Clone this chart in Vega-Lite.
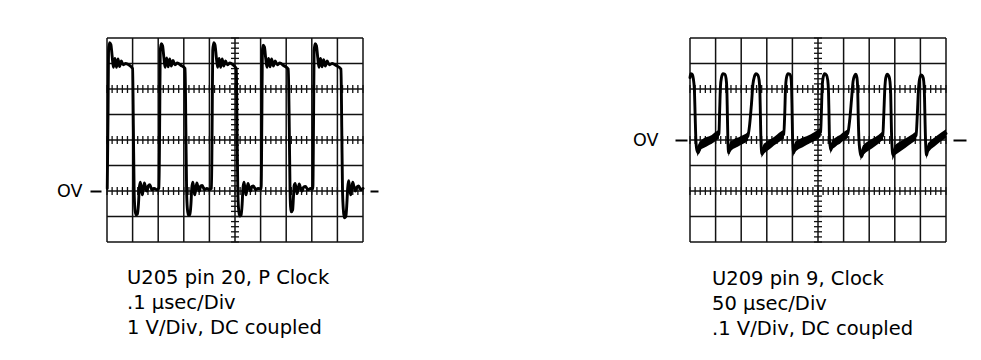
{
  "$schema": "https://vega.github.io/schema/vega-lite/v6.json",
  "autosize": "none",
  "padding": {"left": 107, "top": 38, "right": 874, "bottom": 322},
  "background": "white",
  "config": {"view": {"stroke": null}, "font": "DejaVu Sans"},
  "spacing": 327,
  "bounds": "flush",
  "datasets": {
    "gx": [{"t":0},{"t":1},{"t":2},{"t":3},{"t":4},{"t":5},{"t":6},{"t":7},{"t":8},{"t":9},{"t":10}],
    "gyL": [{"v":-2},{"v":-1},{"v":0},{"v":1},{"v":2},{"v":3},{"v":4},{"v":5},{"v":6}],
    "gyR": [{"v":-0.4},{"v":-0.3},{"v":-0.2},{"v":-0.1},{"v":0},{"v":0.1},{"v":0.2},{"v":0.3},{"v":0.4}],
    "mt": [{"t":0},{"t":0.2},{"t":0.4},{"t":0.6},{"t":0.8},{"t":1},{"t":1.2},{"t":1.4},{"t":1.6},{"t":1.8},{"t":2},{"t":2.2},{"t":2.4},{"t":2.6},{"t":2.8},{"t":3},{"t":3.2},{"t":3.4},{"t":3.6},{"t":3.8},{"t":4},{"t":4.2},{"t":4.4},{"t":4.6},{"t":4.8},{"t":5},{"t":5.2},{"t":5.4},{"t":5.6},{"t":5.8},{"t":6},{"t":6.2},{"t":6.4},{"t":6.6},{"t":6.8},{"t":7},{"t":7.2},{"t":7.4},{"t":7.6},{"t":7.8},{"t":8},{"t":8.2},{"t":8.4},{"t":8.6},{"t":8.8},{"t":9},{"t":9.2},{"t":9.4},{"t":9.6},{"t":9.8},{"t":10}],
    "mvL": [{"v":-2},{"v":-1.8},{"v":-1.6},{"v":-1.4},{"v":-1.2},{"v":-1},{"v":-0.8},{"v":-0.6},{"v":-0.4},{"v":-0.2},{"v":0},{"v":0.2},{"v":0.4},{"v":0.6},{"v":0.8},{"v":1},{"v":1.2},{"v":1.4},{"v":1.6},{"v":1.8},{"v":2},{"v":2.2},{"v":2.4},{"v":2.6},{"v":2.8},{"v":3},{"v":3.2},{"v":3.4},{"v":3.6},{"v":3.8},{"v":4},{"v":4.2},{"v":4.4},{"v":4.6},{"v":4.8},{"v":5},{"v":5.2},{"v":5.4},{"v":5.6},{"v":5.8},{"v":6}],
    "mvR": [{"v":-0.4},{"v":-0.38},{"v":-0.36},{"v":-0.34},{"v":-0.32},{"v":-0.3},{"v":-0.28},{"v":-0.26},{"v":-0.24},{"v":-0.22},{"v":-0.2},{"v":-0.18},{"v":-0.16},{"v":-0.14},{"v":-0.12},{"v":-0.1},{"v":-0.08},{"v":-0.06},{"v":-0.04},{"v":-0.02},{"v":0},{"v":0.02},{"v":0.04},{"v":0.06},{"v":0.08},{"v":0.1},{"v":0.12},{"v":0.14},{"v":0.16},{"v":0.18},{"v":0.2},{"v":0.22},{"v":0.24},{"v":0.26},{"v":0.28},{"v":0.3},{"v":0.32},{"v":0.34},{"v":0.36},{"v":0.38},{"v":0.4}],
    "traceL": [
      {"t":0.01,"v":0.1},{"t":0.04,"v":3.0},{"t":0.06,"v":5.5},{"t":0.1,"v":5.82},{"t":0.15,"v":5.75},{"t":0.2,"v":5.3},{"t":0.25,"v":4.85},{"t":0.31,"v":5.2},{"t":0.37,"v":4.85},{"t":0.43,"v":5.18},{"t":0.49,"v":4.88},{"t":0.56,"v":5.1},{"t":0.63,"v":4.95},{"t":0.73,"v":5.0},{"t":0.85,"v":4.95},{"t":1.0,"v":4.8},{"t":1.03,"v":2.5},{"t":1.06,"v":0.0},{"t":1.09,"v":-0.7},{"t":1.13,"v":-0.93},{"t":1.19,"v":-0.9},{"t":1.23,"v":-0.5},{"t":1.26,"v":0.1},{"t":1.3,"v":0.35},{"t":1.34,"v":0.1},{"t":1.38,"v":-0.15},{"t":1.42,"v":0.1},{"t":1.46,"v":0.32},{"t":1.51,"v":0.1},{"t":1.56,"v":0.0},{"t":1.61,"v":0.2},{"t":1.67,"v":0.25},{"t":1.75,"v":0.05},{"t":1.85,"v":0.1},{"t":1.95,"v":0.05},{"t":2.03,"v":0.1},
      {"t":2.06,"v":3.0},{"t":2.08,"v":5.5},{"t":2.12,"v":5.78},{"t":2.17,"v":5.7},{"t":2.22,"v":5.25},{"t":2.27,"v":4.85},{"t":2.33,"v":5.22},{"t":2.39,"v":4.87},{"t":2.45,"v":5.18},{"t":2.51,"v":4.9},{"t":2.58,"v":5.12},{"t":2.65,"v":4.95},{"t":2.75,"v":5.02},{"t":2.88,"v":4.93},{"t":3.05,"v":4.8},{"t":3.08,"v":2.5},{"t":3.11,"v":0.0},{"t":3.14,"v":-0.7},{"t":3.18,"v":-0.95},{"t":3.24,"v":-0.92},{"t":3.28,"v":-0.5},{"t":3.31,"v":0.1},{"t":3.35,"v":0.35},{"t":3.39,"v":0.1},{"t":3.43,"v":-0.15},{"t":3.47,"v":0.1},{"t":3.51,"v":0.32},{"t":3.56,"v":0.1},{"t":3.61,"v":0.0},{"t":3.66,"v":0.2},{"t":3.72,"v":0.22},{"t":3.8,"v":0.05},{"t":3.9,"v":0.1},{"t":4.0,"v":0.05},{"t":4.08,"v":0.1},
      {"t":4.11,"v":3.0},{"t":4.13,"v":5.5},{"t":4.17,"v":5.82},{"t":4.22,"v":5.72},{"t":4.27,"v":5.25},{"t":4.32,"v":4.85},{"t":4.38,"v":5.2},{"t":4.44,"v":4.85},{"t":4.5,"v":5.18},{"t":4.56,"v":4.9},{"t":4.63,"v":5.1},{"t":4.7,"v":4.95},{"t":4.8,"v":5.02},{"t":4.92,"v":4.95},{"t":5.05,"v":4.8},{"t":5.08,"v":2.5},{"t":5.11,"v":0.0},{"t":5.14,"v":-0.7},{"t":5.18,"v":-0.98},{"t":5.24,"v":-0.95},{"t":5.28,"v":-0.5},{"t":5.31,"v":0.1},{"t":5.35,"v":0.35},{"t":5.39,"v":0.1},{"t":5.43,"v":-0.15},{"t":5.47,"v":0.1},{"t":5.51,"v":0.3},{"t":5.56,"v":0.1},{"t":5.61,"v":0.0},{"t":5.66,"v":0.18},{"t":5.72,"v":0.2},{"t":5.8,"v":0.05},{"t":5.9,"v":0.1},{"t":6.02,"v":0.08},
      {"t":6.05,"v":3.0},{"t":6.07,"v":5.5},{"t":6.1,"v":5.72},{"t":6.15,"v":5.65},{"t":6.2,"v":5.2},{"t":6.25,"v":4.85},{"t":6.31,"v":5.2},{"t":6.37,"v":4.87},{"t":6.43,"v":5.18},{"t":6.5,"v":4.9},{"t":6.57,"v":5.1},{"t":6.65,"v":4.95},{"t":6.75,"v":5.02},{"t":6.9,"v":4.92},{"t":7.08,"v":4.78},{"t":7.12,"v":2.5},{"t":7.15,"v":0.0},{"t":7.17,"v":-0.6},{"t":7.2,"v":-0.82},{"t":7.25,"v":-0.75},{"t":7.28,"v":-0.3},{"t":7.31,"v":0.2},{"t":7.35,"v":0.3},{"t":7.39,"v":0.05},{"t":7.43,"v":-0.1},{"t":7.47,"v":0.1},{"t":7.51,"v":0.28},{"t":7.56,"v":0.1},{"t":7.62,"v":0.0},{"t":7.68,"v":0.15},{"t":7.75,"v":0.18},{"t":7.85,"v":0.05},{"t":7.95,"v":0.1},{"t":8.04,"v":0.08},
      {"t":8.07,"v":3.0},{"t":8.09,"v":5.5},{"t":8.13,"v":5.78},{"t":8.18,"v":5.7},{"t":8.23,"v":5.25},{"t":8.28,"v":4.85},{"t":8.34,"v":5.2},{"t":8.4,"v":4.87},{"t":8.46,"v":5.15},{"t":8.53,"v":4.9},{"t":8.6,"v":5.1},{"t":8.68,"v":4.95},{"t":8.8,"v":5.0},{"t":8.95,"v":4.92},{"t":9.14,"v":4.78},{"t":9.17,"v":2.5},{"t":9.2,"v":0.0},{"t":9.23,"v":-0.7},{"t":9.27,"v":-1.05},{"t":9.33,"v":-1.0},{"t":9.37,"v":-0.5},{"t":9.4,"v":0.1},{"t":9.44,"v":0.4},{"t":9.48,"v":0.1},{"t":9.52,"v":-0.15},{"t":9.56,"v":0.1},{"t":9.6,"v":0.35},{"t":9.65,"v":0.15},{"t":9.7,"v":0.0},{"t":9.76,"v":0.15},{"t":9.83,"v":0.2},{"t":9.91,"v":0.05},{"t":10.0,"v":0.1}
    ],
    "traceR": [
      {"t":0,"v":0.245},{"t":0.03,"v":0.26},{"t":0.08,"v":0.258},{"t":0.13,"v":0.24},{"t":0.17,"v":0.2},{"t":0.2,"v":0.1},{"t":0.23,"v":0.0},{"t":0.27,"v":-0.04},{"t":0.32,"v":-0.05},{"t":0.4,"v":-0.025},{"t":0.55,"v":-0.011},{"t":0.75,"v":-0.003},{"t":0.95,"v":0.01},{"t":1.1,"v":0.02},
      {"t":1.13,"v":0.025},{"t":1.16,"v":0.12},{"t":1.19,"v":0.21},{"t":1.23,"v":0.245},{"t":1.29,"v":0.26},{"t":1.36,"v":0.258},{"t":1.41,"v":0.24},{"t":1.44,"v":0.2},{"t":1.46,"v":0.1},{"t":1.48,"v":0.0},{"t":1.51,"v":-0.05},{"t":1.58,"v":-0.025},{"t":1.78,"v":-0.011},{"t":1.98,"v":-0.003},{"t":2.18,"v":0.008},{"t":2.26,"v":0.015},
      {"t":2.33,"v":0.06},{"t":2.4,"v":0.14},{"t":2.46,"v":0.22},{"t":2.52,"v":0.25},{"t":2.58,"v":0.26},{"t":2.65,"v":0.255},{"t":2.7,"v":0.235},{"t":2.73,"v":0.19},{"t":2.75,"v":0.1},{"t":2.77,"v":0.0},{"t":2.81,"v":-0.055},{"t":2.88,"v":-0.035},{"t":3.08,"v":-0.019},{"t":3.28,"v":-0.005},{"t":3.48,"v":0.01},{"t":3.66,"v":0.022},
      {"t":3.7,"v":0.1},{"t":3.73,"v":0.2},{"t":3.77,"v":0.245},{"t":3.83,"v":0.26},{"t":3.9,"v":0.258},{"t":3.95,"v":0.24},{"t":3.97,"v":0.2},{"t":3.99,"v":0.1},{"t":4.01,"v":0.0},{"t":4.05,"v":-0.05},{"t":4.12,"v":-0.025},{"t":4.4,"v":-0.009},{"t":4.7,"v":0.005},{"t":5.0,"v":0.022},{"t":5.1,"v":0.03},
      {"t":5.13,"v":0.1},{"t":5.16,"v":0.2},{"t":5.2,"v":0.245},{"t":5.26,"v":0.26},{"t":5.33,"v":0.255},{"t":5.38,"v":0.235},{"t":5.41,"v":0.19},{"t":5.43,"v":0.1},{"t":5.45,"v":0.0},{"t":5.5,"v":-0.04},{"t":5.56,"v":-0.018},{"t":5.76,"v":-0.003},{"t":5.96,"v":0.012},{"t":6.16,"v":0.025},
      {"t":6.24,"v":0.08},{"t":6.31,"v":0.16},{"t":6.37,"v":0.23},{"t":6.42,"v":0.25},{"t":6.47,"v":0.258},{"t":6.52,"v":0.245},{"t":6.55,"v":0.2},{"t":6.57,"v":0.1},{"t":6.6,"v":0.0},{"t":6.66,"v":-0.055},{"t":6.71,"v":-0.065},{"t":6.78,"v":-0.04},{"t":7.0,"v":-0.021},{"t":7.24,"v":-0.006},{"t":7.46,"v":0.012},{"t":7.53,"v":0.018},
      {"t":7.57,"v":0.1},{"t":7.61,"v":0.2},{"t":7.65,"v":0.245},{"t":7.71,"v":0.258},{"t":7.77,"v":0.25},{"t":7.81,"v":0.23},{"t":7.84,"v":0.18},{"t":7.86,"v":0.08},{"t":7.88,"v":0.0},{"t":7.93,"v":-0.06},{"t":8.0,"v":-0.04},{"t":8.28,"v":-0.021},{"t":8.56,"v":-0.003},{"t":8.83,"v":0.018},
      {"t":8.88,"v":0.1},{"t":8.92,"v":0.19},{"t":8.97,"v":0.24},{"t":9.03,"v":0.255},{"t":9.09,"v":0.25},{"t":9.13,"v":0.23},{"t":9.16,"v":0.17},{"t":9.18,"v":0.08},{"t":9.2,"v":0.0},{"t":9.24,"v":-0.06},{"t":9.3,"v":-0.03},{"t":9.55,"v":-0.008},{"t":9.8,"v":0.012},{"t":10.0,"v":0.025}
    ],
    "bandR": [
      {"seg":"A","t":0.28,"lo":-0.065,"hi":-0.025},{"seg":"A","t":0.36,"lo":-0.05,"hi":-0.01},{"seg":"A","t":0.45,"lo":-0.035,"hi":0.0},{"seg":"A","t":0.55,"lo":-0.03,"hi":0.008},{"seg":"A","t":0.65,"lo":-0.025,"hi":0.012},{"seg":"A","t":0.75,"lo":-0.02,"hi":0.015},{"seg":"A","t":0.85,"lo":-0.015,"hi":0.02},{"seg":"A","t":0.95,"lo":-0.008,"hi":0.028},{"seg":"A","t":1.05,"lo":0.0,"hi":0.035},{"seg":"A","t":1.13,"lo":0.005,"hi":0.04},
      {"seg":"B","t":1.5,"lo":-0.065,"hi":-0.025},{"seg":"B","t":1.58,"lo":-0.045,"hi":-0.005},{"seg":"B","t":1.68,"lo":-0.035,"hi":0.0},{"seg":"B","t":1.78,"lo":-0.03,"hi":0.008},{"seg":"B","t":1.88,"lo":-0.025,"hi":0.01},{"seg":"B","t":1.98,"lo":-0.02,"hi":0.015},{"seg":"B","t":2.08,"lo":-0.015,"hi":0.02},{"seg":"B","t":2.18,"lo":-0.01,"hi":0.025},{"seg":"B","t":2.27,"lo":-0.002,"hi":0.032},
      {"seg":"C","t":2.79,"lo":-0.07,"hi":-0.035},{"seg":"C","t":2.88,"lo":-0.055,"hi":-0.015},{"seg":"C","t":2.98,"lo":-0.045,"hi":-0.008},{"seg":"C","t":3.08,"lo":-0.038,"hi":0.0},{"seg":"C","t":3.18,"lo":-0.03,"hi":0.005},{"seg":"C","t":3.28,"lo":-0.022,"hi":0.012},{"seg":"C","t":3.38,"lo":-0.015,"hi":0.02},{"seg":"C","t":3.48,"lo":-0.008,"hi":0.028},{"seg":"C","t":3.58,"lo":0.0,"hi":0.035},{"seg":"C","t":3.67,"lo":0.005,"hi":0.04},
      {"seg":"D","t":4.03,"lo":-0.065,"hi":-0.025},{"seg":"D","t":4.12,"lo":-0.045,"hi":-0.005},{"seg":"D","t":4.25,"lo":-0.035,"hi":0.002},{"seg":"D","t":4.4,"lo":-0.028,"hi":0.01},{"seg":"D","t":4.55,"lo":-0.02,"hi":0.015},{"seg":"D","t":4.7,"lo":-0.012,"hi":0.022},{"seg":"D","t":4.85,"lo":-0.005,"hi":0.03},{"seg":"D","t":5.0,"lo":0.005,"hi":0.04},{"seg":"D","t":5.1,"lo":0.012,"hi":0.048},
      {"seg":"E","t":5.48,"lo":-0.055,"hi":-0.02},{"seg":"E","t":5.56,"lo":-0.035,"hi":0.0},{"seg":"E","t":5.66,"lo":-0.028,"hi":0.008},{"seg":"E","t":5.76,"lo":-0.02,"hi":0.015},{"seg":"E","t":5.86,"lo":-0.015,"hi":0.02},{"seg":"E","t":5.96,"lo":-0.005,"hi":0.028},{"seg":"E","t":6.06,"lo":0.0,"hi":0.035},{"seg":"E","t":6.17,"lo":0.008,"hi":0.042},
      {"seg":"F","t":6.66,"lo":-0.08,"hi":-0.045},{"seg":"F","t":6.76,"lo":-0.06,"hi":-0.02},{"seg":"F","t":6.88,"lo":-0.048,"hi":-0.01},{"seg":"F","t":7.0,"lo":-0.04,"hi":-0.002},{"seg":"F","t":7.12,"lo":-0.032,"hi":0.005},{"seg":"F","t":7.24,"lo":-0.024,"hi":0.012},{"seg":"F","t":7.36,"lo":-0.015,"hi":0.02},{"seg":"F","t":7.46,"lo":-0.005,"hi":0.028},{"seg":"F","t":7.54,"lo":0.0,"hi":0.035},
      {"seg":"G","t":7.9,"lo":-0.08,"hi":-0.045},{"seg":"G","t":8.0,"lo":-0.06,"hi":-0.02},{"seg":"G","t":8.14,"lo":-0.05,"hi":-0.01},{"seg":"G","t":8.28,"lo":-0.04,"hi":-0.002},{"seg":"G","t":8.42,"lo":-0.03,"hi":0.006},{"seg":"G","t":8.56,"lo":-0.02,"hi":0.015},{"seg":"G","t":8.7,"lo":-0.01,"hi":0.024},{"seg":"G","t":8.84,"lo":0.0,"hi":0.035},
      {"seg":"H","t":9.22,"lo":-0.075,"hi":-0.035},{"seg":"H","t":9.3,"lo":-0.05,"hi":-0.012},{"seg":"H","t":9.42,"lo":-0.035,"hi":0.0},{"seg":"H","t":9.55,"lo":-0.025,"hi":0.01},{"seg":"H","t":9.68,"lo":-0.015,"hi":0.02},{"seg":"H","t":9.8,"lo":-0.005,"hi":0.028},{"seg":"H","t":9.9,"lo":0.002,"hi":0.035},{"seg":"H","t":10.0,"lo":0.008,"hi":0.042}
    ]
  },
  "hconcat": [
    {
      "width": 256,
      "height": 204,
      "title": {"text": ["U205 pin 20, P Clock", ".1 μsec/Div", "1 V/Div, DC coupled"], "orient": "bottom", "anchor": "start", "frame": "group", "offset": 26, "dx": 20, "font": "DejaVu Sans", "fontSize": 19.5, "fontWeight": "normal", "color": "black", "lineHeight": 25, "baseline": "top"},
      "resolve": {"axis": {"y": "independent"}},
      "layer": [
        {"data": {"name": "gx"}, "mark": {"type": "rule", "color": "#111", "strokeWidth": 1.5}, "encoding": {"x": {"field": "t", "type": "quantitative", "scale": {"domain": [0, 10], "nice": false, "zero": false}, "axis": null}}},
        {"data": {"name": "gyL"}, "mark": {"type": "rule", "color": "#111", "strokeWidth": 1.5}, "encoding": {"y": {"field": "v", "type": "quantitative", "scale": {"domain": [-2, 6], "nice": false, "zero": false}, "axis": {"orient": "right", "values": [0], "labels": false, "domain": false, "grid": false, "ticks": true, "tickSize": 8, "tickWidth": 2, "tickColor": "black", "offset": 7, "title": null}}}},
        {"data": {"name": "mt"}, "mark": {"type": "tick", "orient": "vertical", "size": 8, "thickness": 1.3, "color": "#111", "opacity": 1}, "encoding": {"x": {"field": "t", "type": "quantitative", "axis": null}, "y": {"datum": 0, "axis": null}}},
        {"data": {"name": "mt"}, "mark": {"type": "tick", "orient": "vertical", "size": 8, "thickness": 1.3, "color": "#111", "opacity": 1}, "encoding": {"x": {"field": "t", "type": "quantitative", "axis": null}, "y": {"datum": 2, "axis": null}}},
        {"data": {"name": "mt"}, "mark": {"type": "tick", "orient": "vertical", "size": 8, "thickness": 1.3, "color": "#111", "opacity": 1}, "encoding": {"x": {"field": "t", "type": "quantitative", "axis": null}, "y": {"datum": 4, "axis": null}}},
        {"data": {"name": "mvL"}, "mark": {"type": "tick", "orient": "horizontal", "size": 8, "thickness": 1.3, "color": "#111", "opacity": 1}, "encoding": {"y": {"field": "v", "type": "quantitative", "axis": null}, "x": {"datum": 5, "axis": null}}},
        {"data": {"name": "traceL"}, "mark": {"type": "line", "color": "black", "strokeWidth": 2.9, "strokeJoin": "round", "strokeCap": "round", "interpolate": "monotone"}, "encoding": {"x": {"field": "t", "type": "quantitative", "axis": null}, "y": {"field": "v", "type": "quantitative", "axis": {"orient": "left", "values": [0], "labelExpr": "'OV'", "domain": false, "grid": false, "ticks": true, "tickSize": 11, "tickWidth": 2, "tickColor": "black", "offset": 6, "labelPadding": 8, "labelFont": "DejaVu Sans", "labelFontSize": 17.5, "labelColor": "black", "title": null}}}}
      ]
    },
    {
      "width": 256,
      "height": 204,
      "title": {"text": ["U209 pin 9, Clock", "50 μsec/Div", ".1 V/Div, DC coupled"], "orient": "bottom", "anchor": "start", "frame": "group", "offset": 27, "dx": 22, "font": "DejaVu Sans", "fontSize": 19.5, "fontWeight": "normal", "color": "black", "lineHeight": 25, "baseline": "top"},
      "resolve": {"axis": {"y": "independent"}},
      "layer": [
        {"data": {"name": "gx"}, "mark": {"type": "rule", "color": "#111", "strokeWidth": 1.5}, "encoding": {"x": {"field": "t", "type": "quantitative", "scale": {"domain": [0, 10], "nice": false, "zero": false}, "axis": null}}},
        {"data": {"name": "gyR"}, "mark": {"type": "rule", "color": "#111", "strokeWidth": 1.5}, "encoding": {"y": {"field": "v", "type": "quantitative", "scale": {"domain": [-0.4, 0.4], "nice": false, "zero": false}, "axis": {"orient": "right", "values": [0], "labels": false, "domain": false, "grid": false, "ticks": true, "tickSize": 13, "tickWidth": 2, "tickColor": "black", "offset": 7, "title": null}}}},
        {"data": {"name": "mt"}, "mark": {"type": "tick", "orient": "vertical", "size": 8, "thickness": 1.3, "color": "#111", "opacity": 1}, "encoding": {"x": {"field": "t", "type": "quantitative", "axis": null}, "y": {"datum": -0.2, "axis": null}}},
        {"data": {"name": "mt"}, "mark": {"type": "tick", "orient": "vertical", "size": 8, "thickness": 1.3, "color": "#111", "opacity": 1}, "encoding": {"x": {"field": "t", "type": "quantitative", "axis": null}, "y": {"datum": 0, "axis": null}}},
        {"data": {"name": "mt"}, "mark": {"type": "tick", "orient": "vertical", "size": 8, "thickness": 1.3, "color": "#111", "opacity": 1}, "encoding": {"x": {"field": "t", "type": "quantitative", "axis": null}, "y": {"datum": 0.2, "axis": null}}},
        {"data": {"name": "mvR"}, "mark": {"type": "tick", "orient": "horizontal", "size": 8, "thickness": 1.3, "color": "#111", "opacity": 1}, "encoding": {"y": {"field": "v", "type": "quantitative", "axis": null}, "x": {"datum": 5, "axis": null}}},
        {"data": {"name": "bandR"}, "mark": {"type": "area", "color": "black", "opacity": 1}, "encoding": {"x": {"field": "t", "type": "quantitative", "axis": null}, "y": {"field": "lo", "type": "quantitative", "axis": null}, "y2": {"field": "hi"}, "detail": {"field": "seg"}}},
        {"data": {"name": "traceR"}, "mark": {"type": "line", "color": "black", "strokeWidth": 2.9, "strokeJoin": "round", "strokeCap": "round", "interpolate": "monotone"}, "encoding": {"x": {"field": "t", "type": "quantitative", "axis": null}, "y": {"field": "v", "type": "quantitative", "axis": {"orient": "left", "values": [0], "labelExpr": "'OV'", "domain": false, "grid": false, "ticks": true, "tickSize": 12, "tickWidth": 2, "tickColor": "black", "offset": 3, "labelPadding": 17, "labelFont": "DejaVu Sans", "labelFontSize": 17.5, "labelColor": "black", "title": null}}}}
      ]
    }
  ]
}
